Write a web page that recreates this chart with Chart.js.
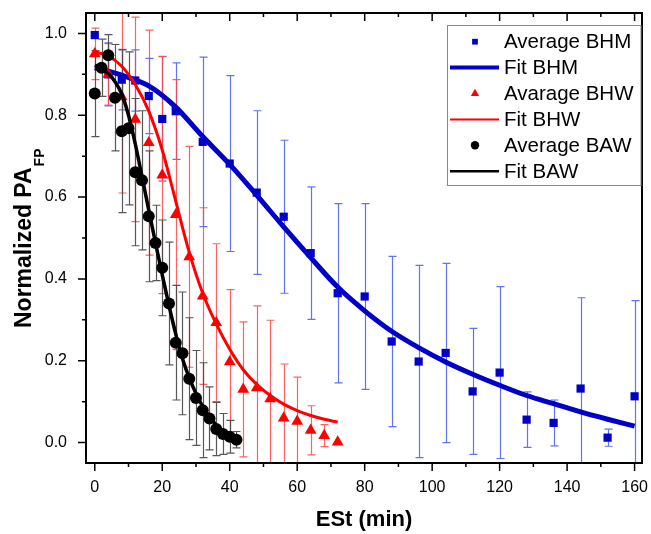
<!DOCTYPE html>
<html>
<head>
<meta charset="utf-8">
<script src="https://cdn.jsdelivr.net/npm/chart.js@4.4.0/dist/chart.umd.min.js"></script>
<style>
  html, body { margin: 0; padding: 0; background: #fff; }
  #wrap { position: relative; width: 651px; height: 534px; }
</style>
</head>
<body>
<div id="wrap"><canvas id="myChart"></canvas></div>
<script>
// BHM
const bhmX = [0, 4, 8, 12, 16, 20, 24, 32, 40, 48, 56, 64, 72, 80, 88, 96, 104, 112, 120, 128, 136, 144, 152, 160];
const bhmY = [0.996, 0.90, 0.887, 0.885, 0.847, 0.791, 0.81, 0.735, 0.682, 0.611, 0.552, 0.463, 0.365, 0.357, 0.247, 0.198, 0.219, 0.125, 0.171, 0.056, 0.048, 0.132, 0.012, 0.113];
const bhmErr = [0, 0.077, 0.074, 0.075, 0.092, 0.152, 0.118, 0.207, 0.215, 0.20, 0.187, 0.162, 0.219, 0.227, 0.208, 0.235, 0.219, 0.154, 0.21, 0.068, 0.056, 0.222, 0.021, 0.234];
const bhmFitX = [0, 4, 8, 16, 24, 32, 40, 48, 56, 64, 72, 80, 88, 96, 104, 112, 120, 128, 136, 144, 152, 160];
const bhmFitY = [0.916, 0.908, 0.898, 0.872, 0.82, 0.748, 0.68, 0.605, 0.527, 0.452, 0.38, 0.322, 0.272, 0.232, 0.197, 0.167, 0.14, 0.115, 0.095, 0.075, 0.057, 0.04];

// BHW
const bhwX = [0, 4, 8, 12, 16, 20, 24, 28, 32, 36, 40, 44, 48, 52, 56, 60, 64, 68, 72];
const bhwY = [0.95, 0.90, 0.845, 0.79, 0.733, 0.654, 0.557, 0.454, 0.358, 0.293, 0.197, 0.13, 0.134, 0.107, 0.06, 0.052, 0.03, 0.017, 0.001];
const bhwErr = [0.063, 0.075, 0.235, 0.25, 0.275, 0.29, 0.33, 0.27, 0.216, 0.193, 0.177, 0.165, 0.2, 0.192, 0.132, 0.108, 0.06, 0.027, 0];
const bhwFitX = [0, 4, 8, 12, 16, 20, 24, 28, 32, 36, 40, 44, 48, 52, 56, 60, 64, 68, 72];
const bhwFitY = [0.955, 0.945, 0.92, 0.875, 0.81, 0.715, 0.59, 0.465, 0.365, 0.29, 0.228, 0.178, 0.142, 0.115, 0.094, 0.078, 0.066, 0.057, 0.05];

// BAW
const bawX = [0, 2, 4, 6, 8, 10, 12, 14, 16, 18, 20, 22, 24, 26, 28, 30, 32, 34, 36, 38, 40, 42];
const bawY = [0.853, 0.916, 0.947, 0.843, 0.761, 0.768, 0.661, 0.641, 0.553, 0.488, 0.427, 0.34, 0.244, 0.218, 0.156, 0.109, 0.079, 0.059, 0.033, 0.021, 0.014, 0.007];
const bawErr = [0.105, 0.07, 0.05, 0.13, 0.199, 0.187, 0.18, 0.17, 0.16, 0.092, 0.117, 0.15, 0.14, 0.15, 0.149, 0.116, 0.116, 0.077, 0.065, 0.05, 0.04, 0.02];
const bawFitX = [0, 2, 4, 6, 8, 10, 12, 14, 16, 18, 20, 22, 24, 26, 28, 30, 32, 34, 36, 38, 40, 42];
const bawFitY = [0.922, 0.915, 0.902, 0.882, 0.852, 0.80, 0.73, 0.65, 0.568, 0.488, 0.41, 0.335, 0.265, 0.205, 0.158, 0.12, 0.088, 0.063, 0.043, 0.028, 0.017, 0.009];

const xTicks = [0, 20, 40, 60, 80, 100, 120, 140, 160];
const yTicks = [0, 0.2, 0.4, 0.6, 0.8, 1.0];

const FONT = '"Liberation Sans", Arial, sans-serif';

function pts(xs, ys) {
  return xs.map((x, i) => ({ x: x, y: ys[i] }));
}

const blue = '#0000c8', red = '#ff0000', black = '#000000';

// drawn index 0 on top
const datasets = [
  { label: 'Average BAW', data: pts(bawX, bawY), pointStyle: 'circle', pointRadius: 6,
    backgroundColor: black, borderColor: black, borderWidth: 0, err: bawErr, errColor: 'rgba(70,70,70,0.9)' },
  { label: 'Fit BAW', data: pts(bawFitX, bawFitY), showLine: true, pointRadius: 0,
    borderColor: black, borderWidth: 3.5, cubicInterpolationMode: 'monotone' },
  { label: 'Avarage BHW', data: pts(bhwX, bhwY), pointStyle: 'triangle', pointRadius: 6.8,
    backgroundColor: red, borderColor: red, borderWidth: 0, err: bhwErr, errColor: 'rgba(255,70,70,0.85)' },
  { label: 'Fit BHW', data: pts(bhwFitX, bhwFitY), showLine: true, pointRadius: 0,
    borderColor: red, borderWidth: 3, cubicInterpolationMode: 'monotone' },
  { label: 'Average BHM', data: pts(bhmX, bhmY), pointStyle: 'rect', pointRadius: 5.8,
    backgroundColor: blue, borderColor: blue, borderWidth: 0, err: bhmErr, errColor: 'rgba(70,90,235,0.85)' },
  { label: 'Fit BHM', data: pts(bhmFitX, bhmFitY), showLine: true, pointRadius: 0,
    borderColor: blue, borderWidth: 5, cubicInterpolationMode: 'monotone' }
];

const errorBars = {
  id: 'errorBars',
  beforeDatasetsDraw(chart) {
    const ctx = chart.ctx, a = chart.chartArea;
    const xs = chart.scales.x, ys = chart.scales.y;
    ctx.save();
    ctx.beginPath();
    ctx.rect(a.left, a.top, a.right - a.left, a.bottom - a.top);
    ctx.clip();
    ctx.lineWidth = 1.2;
    for (let d = chart.data.datasets.length - 1; d >= 0; d--) {
      const ds = chart.data.datasets[d];
      if (!ds.err) continue;
      ctx.strokeStyle = ds.errColor;
      ds.data.forEach((p, i) => {
        const e = ds.err[i];
        if (!e) return;
        const px = Math.round(xs.getPixelForValue(p.x)) + 0.5;
        const y1 = ys.getPixelForValue(p.y + e), y2 = ys.getPixelForValue(p.y - e);
        ctx.beginPath();
        ctx.moveTo(px, y1); ctx.lineTo(px, y2);
        ctx.moveTo(px - 4, y1); ctx.lineTo(px + 4, y1);
        ctx.moveTo(px - 4, y2); ctx.lineTo(px + 4, y2);
        ctx.stroke();
      });
    }
    ctx.restore();
  }
};

const frame = {
  id: 'frame',
  afterDraw(chart) {
    const ctx = chart.ctx, a = chart.chartArea;
    const xs = chart.scales.x, ys = chart.scales.y;
    ctx.save();
    ctx.strokeStyle = '#000';
    ctx.lineWidth = 1.5;
    ctx.beginPath();
    xTicks.forEach((v, i) => {
      const px = xs.getPixelForValue(v);
      ctx.moveTo(px, a.bottom); ctx.lineTo(px, a.bottom + 8);
      ctx.moveTo(px, a.top); ctx.lineTo(px, a.top + 8);
      const m = v + (xTicks[1] - xTicks[0]) / 2;
      if (m < xs.max) {
        const pm = xs.getPixelForValue(m);
        ctx.moveTo(pm, a.bottom); ctx.lineTo(pm, a.bottom + 4);
        ctx.moveTo(pm, a.top); ctx.lineTo(pm, a.top + 4);
      }
    });
    yTicks.forEach((v) => {
      const py = ys.getPixelForValue(v);
      ctx.moveTo(a.left, py); ctx.lineTo(a.left - 8, py);
      const m = v + (yTicks[1] - yTicks[0]) / 2;
      if (m < ys.max) {
        const pm = ys.getPixelForValue(m);
        ctx.moveTo(a.left, pm); ctx.lineTo(a.left - 4, pm);
      }
    });
    ctx.stroke();
    ctx.lineWidth = 2;
    ctx.strokeRect(a.left, a.top, a.right - a.left, a.bottom - a.top);

    // y title with subscript
    ctx.fillStyle = '#000';
    ctx.translate(30.5, 328);
    ctx.rotate(-Math.PI / 2);
    ctx.textBaseline = 'alphabetic';
    ctx.textAlign = 'left';
    ctx.font = 'bold 23px ' + FONT;
    const main = 'Normalized PA';
    ctx.fillText(main, 0, 0);
    const w = ctx.measureText(main).width;
    ctx.font = 'bold 14px ' + FONT;
    ctx.fillText('FP', w + 1, 13);
    ctx.restore();

    // legend
    const L = { left: 447.5, top: 25.5, right: 641, bottom: 185.5 };
    ctx.save();
    ctx.fillStyle = '#fff';
    ctx.fillRect(L.left, L.top, L.right - L.left, L.bottom - L.top);
    ctx.strokeStyle = '#888';
    ctx.lineWidth = 1;
    ctx.strokeRect(L.left, L.top, L.right - L.left, L.bottom - L.top);
    const order = [4, 5, 2, 3, 0, 1];
    order.forEach((di, row) => {
      const ds = chart.data.datasets[di];
      const cy = 41.7 + row * 25.9;
      if (ds.showLine) {
        ctx.strokeStyle = ds.borderColor;
        ctx.lineWidth = ds.borderWidth - 1;
        ctx.beginPath();
        ctx.moveTo(450, cy); ctx.lineTo(499, cy);
        ctx.stroke();
      } else {
        ctx.fillStyle = ds.backgroundColor;
        ctx.strokeStyle = ds.backgroundColor;
        Chart.helpers.drawPoint(ctx, { pointStyle: ds.pointStyle, radius: ds.pointRadius * 0.7, rotation: 0, borderWidth: 0 }, 475, cy);
      }
      ctx.fillStyle = '#000';
      ctx.font = '20.5px ' + FONT;
      ctx.textBaseline = 'middle';
      ctx.textAlign = 'left';
      ctx.fillText(ds.label, 504, cy + 1);
    });
    ctx.restore();
  }
};

new Chart(document.getElementById('myChart'), {
  type: 'scatter',
  data: { datasets: datasets },
  options: {
    responsive: true,
    maintainAspectRatio: false,
    animation: false,
    layout: { padding: { top: 13, right: 9, left: 0, bottom: 0 } },
    plugins: { legend: { display: false }, tooltip: { enabled: false } },
    scales: {
      x: {
        type: 'linear',
        min: -2.6, max: 162.2,
        afterFit(s) { s.height = 71; s.paddingLeft = 0; s.paddingRight = 0; },
        grid: { display: false, drawTicks: false },
        border: { display: false },
        ticks: { stepSize: 20, includeBounds: false, padding: 15, color: '#000',
          font: { family: FONT, size: 16 } },
        title: { display: true, text: 'ESt (min)', color: '#000',
          font: { family: FONT, size: 22, weight: 'bold' }, padding: { top: 0, bottom: 1 } }
      },
      y: {
        type: 'linear',
        min: -0.05, max: 1.05,
        afterFit(s) { s.width = 86; s.paddingTop = 0; s.paddingBottom = 0; },
        grid: { display: false, drawTicks: false },
        border: { display: false },
        ticks: { stepSize: 0.2, includeBounds: false, padding: 19, color: '#000',
          font: { family: FONT, size: 16 },
          callback: (v) => v.toFixed(1) }
      }
    }
  },
  plugins: [errorBars, frame]
});
</script>
</body>
</html>
